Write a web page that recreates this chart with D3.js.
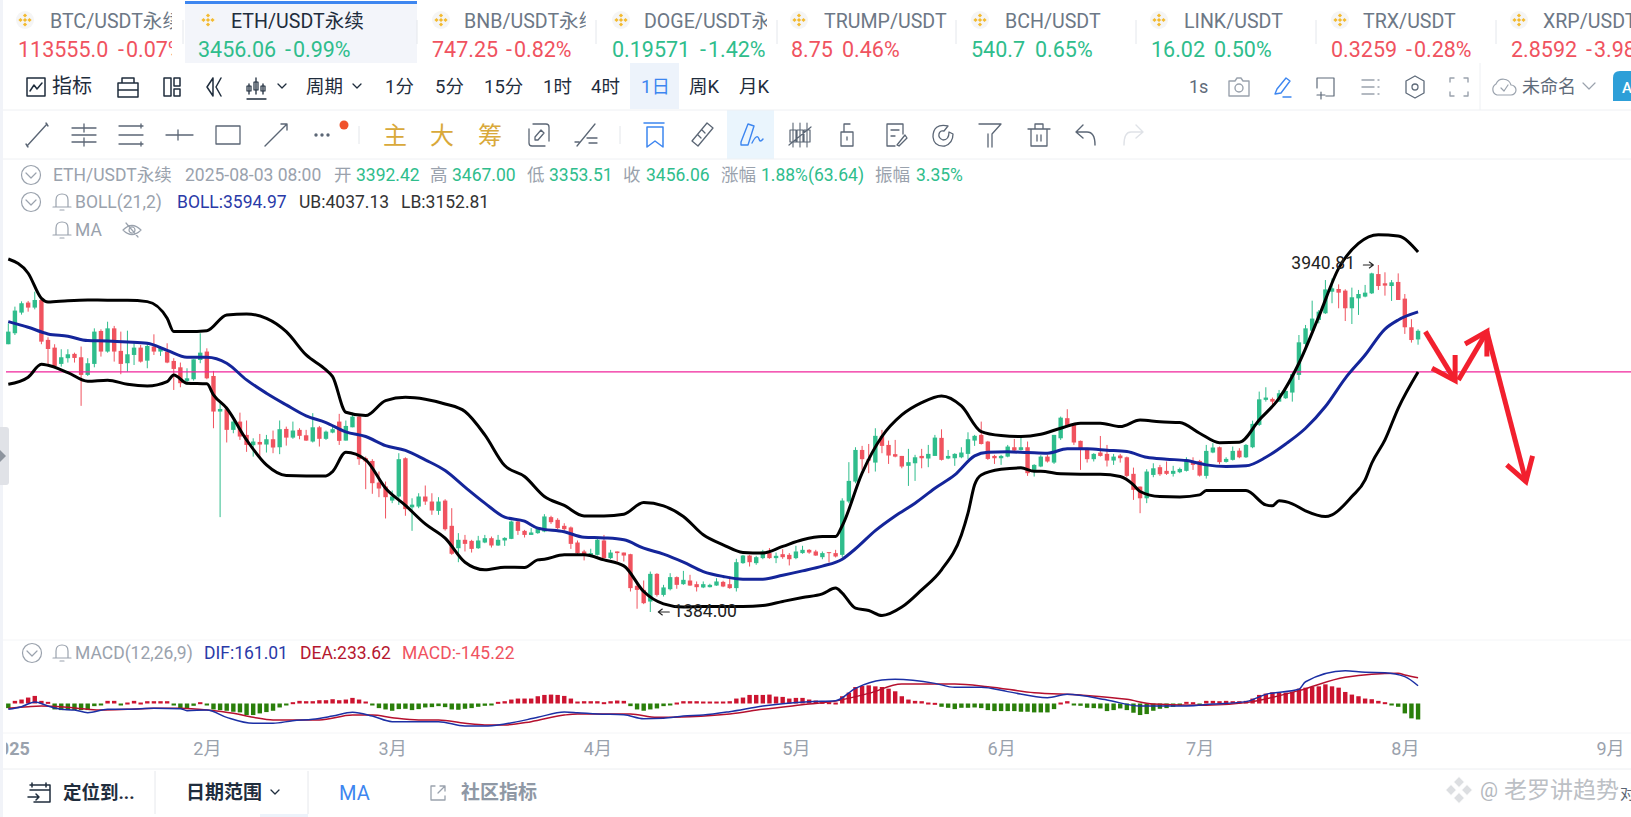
<!DOCTYPE html>
<html>

<head>
    <meta charset="utf-8">
    <style>
        body {
            margin: 0;
            background: #fff;
            overflow: hidden;
        }

        svg text {
            font-family: Roboto, "Noto Sans CJK SC", sans-serif;
        }
    </style>
</head>

<body>
    <svg id="chart" width="1631" height="817"></svg>
    <script src="https://cdnjs.cloudflare.com/ajax/libs/d3/7.8.5/d3.min.js"></script>
    <script>
        // daily candles, first one is 2025-01-02, one value per day
        const opens = [
            3357, 3438, 3590, 3664, 3627, 3683, 3389, 3332, 3212, 3254,
            3286, 3261, 3131, 3212, 3455, 3303, 3474, 3308, 3217, 3278,
            3332, 3236, 3340, 3303, 3303, 3234, 3187, 3087, 3099, 3241,
            3303, 3123, 2861, 2878, 2726, 2787, 2689, 2613, 2637, 2618,
            2657, 2598, 2733, 2669, 2726, 2686, 2640, 2745, 2660, 2706,
            2787, 2647, 2745, 2824, 2517, 2497, 2338, 2309, 2205, 2235,
            2517, 2155, 2161, 2235, 2198, 2129, 2205, 2019, 1854, 1916,
            1908, 1854, 1896, 1928, 1874, 1911, 1923, 2051, 1982, 1952,
            1965, 1977, 2083, 2063, 2019, 2007, 1896, 1830, 1793, 1805,
            1911, 1781, 1830, 1822, 1810, 1577, 1547, 1461, 1665, 1510,
            1552, 1641, 1589, 1616, 1589, 1565, 1567, 1579, 1606, 1589,
            1560, 1744, 1800, 1744, 1781, 1818, 1781, 1810, 1805, 1781,
            1818, 1842, 1830, 1788, 1825, 1818, 1805, 2198, 2345, 2578,
            2510, 2485, 2682, 2615, 2547, 2534, 2461, 2480, 2534, 2515,
            2534, 2667, 2515, 2517, 2524, 2549, 2647, 2689, 2640, 2534,
            2517, 2529, 2598, 2578, 2598, 2431, 2456, 2529, 2485, 2664,
            2812, 2762, 2645, 2583, 2510, 2559, 2549, 2500, 2537, 2524,
            2402, 2308, 2222, 2394, 2451, 2424, 2402, 2414, 2424, 2493,
            2497, 2387, 2559, 2598, 2490, 2505, 2573, 2524, 2598, 2763,
            2947, 2954, 2934, 2959, 3001, 3131, 3359, 3457, 3536, 3585,
            3744, 3764, 3752, 3622, 3695, 3708, 3732, 3874, 3806, 3786,
            3816, 3693, 3482, 3392.42
        ];
        const highs = [
            3511, 3634, 3673, 3676, 3744, 3688, 3408, 3357, 3320, 3320,
            3295, 3340, 3254, 3474, 3467, 3523, 3492, 3450, 3457, 3364,
            3352, 3369, 3430, 3344, 3364, 3254, 3222, 3180, 3246, 3438,
            3327, 3160, 2922, 2898, 2829, 2853, 2795, 2664, 2696, 2689,
            2721, 2795, 2750, 2787, 2738, 2726, 2849, 2755, 2721, 2750,
            2844, 2795, 2853, 2836, 2529, 2510, 2419, 2345, 2279, 2554,
            2524, 2222, 2259, 2316, 2259, 2230, 2215, 2149, 1965, 1952,
            1916, 1945, 1952, 1940, 1952, 1935, 2058, 2058, 1989, 2002,
            2009, 2105, 2093, 2075, 2038, 2014, 1911, 1842, 1850, 1928,
            1952, 1842, 1830, 1822, 1813, 1597, 1616, 1682, 1670, 1584,
            1670, 1646, 1687, 1658, 1609, 1609, 1592, 1633, 1614, 1646,
            1776, 1805, 1805, 1798, 1842, 1855, 1822, 1847, 1818, 1872,
            1872, 1847, 1842, 1830, 1825, 1842, 2222, 2488, 2598, 2608,
            2622, 2738, 2726, 2647, 2652, 2534, 2586, 2542, 2586, 2615,
            2689, 2730, 2578, 2554, 2598, 2708, 2689, 2787, 2645, 2542,
            2542, 2615, 2659, 2669, 2640, 2473, 2539, 2542, 2689, 2824,
            2878, 2775, 2647, 2591, 2554, 2681, 2615, 2549, 2549, 2529,
            2448, 2308, 2436, 2480, 2468, 2493, 2461, 2448, 2524, 2524,
            2505, 2615, 2628, 2603, 2524, 2603, 2591, 2622, 2794, 3008,
            3040, 2964, 3020, 3032, 3155, 3425, 3499, 3678, 3609, 3830,
            3842, 3798, 3762, 3774, 3757, 3794, 3884, 3940.81, 3887, 3830,
            3879, 3727, 3541, 3467
        ];
        const lows = [
            3357, 3425, 3575, 3597, 3614, 3357, 3212, 3180, 3192, 3222,
            3222, 2903, 3123, 3187, 3266, 3295, 3229, 3136, 3155, 3204,
            3222, 3180, 3278, 3271, 3217, 3020, 3040, 3057, 3089, 3217,
            3099, 2738, 2083, 2633, 2701, 2652, 2564, 2529, 2517, 2559,
            2554, 2547, 2610, 2660, 2657, 2645, 2633, 2603, 2652, 2701,
            2615, 2647, 2745, 2468, 2289, 2255, 2230, 2073, 2186, 2173,
            2093, 1982, 2149, 2173, 2100, 2100, 1984, 1805, 1751, 1830,
            1822, 1849, 1891, 1859, 1871, 1871, 1921, 1952, 1933, 1952,
            1960, 1972, 2033, 1994, 1984, 1849, 1805, 1764, 1788, 1800,
            1776, 1773, 1756, 1756, 1535, 1408, 1442, 1384, 1498, 1498,
            1543, 1555, 1584, 1577, 1535, 1560, 1565, 1577, 1567, 1555,
            1535, 1739, 1719, 1732, 1773, 1776, 1744, 1776, 1727, 1773,
            1813, 1813, 1798, 1773, 1749, 1786, 1788, 2186, 2333, 2431,
            2407, 2419, 2554, 2475, 2524, 2443, 2313, 2350, 2443, 2451,
            2534, 2500, 2510, 2461, 2517, 2510, 2608, 2618, 2505, 2475,
            2468, 2524, 2566, 2573, 2387, 2382, 2451, 2485, 2475, 2652,
            2745, 2615, 2431, 2485, 2493, 2529, 2456, 2468, 2485, 2377,
            2210, 2112, 2186, 2377, 2387, 2394, 2382, 2407, 2419, 2431,
            2382, 2367, 2554, 2473, 2485, 2500, 2517, 2519, 2591, 2755,
            2934, 2885, 2934, 2954, 2934, 3094, 3303, 3450, 3511, 3580,
            3659, 3622, 3528, 3506, 3573, 3703, 3727, 3757, 3715, 3676,
            3683, 3433, 3369, 3353.51
        ];
        const closes = [
            3450, 3605, 3659, 3627, 3683, 3376, 3322, 3197, 3261, 3283,
            3256, 3131, 3217, 3450, 3303, 3474, 3303, 3212, 3283, 3332,
            3229, 3344, 3303, 3335, 3222, 3175, 3070, 3106, 3246, 3295,
            3106, 2861, 2880, 2726, 2787, 2677, 2615, 2640, 2618, 2657,
            2596, 2731, 2669, 2721, 2682, 2647, 2745, 2660, 2713, 2731,
            2645, 2755, 2824, 2510, 2493, 2333, 2294, 2230, 2235, 2510,
            2142, 2175, 2235, 2198, 2132, 2198, 1994, 1813, 1916, 1886,
            1849, 1911, 1928, 1874, 1916, 1930, 2051, 1982, 1952, 1970,
            2002, 2088, 2046, 2002, 1994, 1886, 1818, 1805, 1818, 1916,
            1781, 1822, 1818, 1800, 1560, 1547, 1449, 1665, 1510, 1565,
            1641, 1584, 1621, 1579, 1567, 1589, 1584, 1609, 1572, 1560,
            1751, 1800, 1751, 1788, 1830, 1781, 1798, 1788, 1773, 1830,
            1842, 1822, 1800, 1818, 1818, 1793, 2205, 2350, 2578, 2510,
            2500, 2682, 2608, 2537, 2529, 2456, 2488, 2524, 2517, 2549,
            2669, 2505, 2534, 2549, 2559, 2657, 2682, 2622, 2512, 2517,
            2534, 2603, 2573, 2598, 2407, 2468, 2529, 2493, 2689, 2816,
            2755, 2633, 2583, 2510, 2549, 2534, 2500, 2529, 2517, 2387,
            2284, 2222, 2419, 2443, 2399, 2402, 2424, 2438, 2500, 2468,
            2389, 2571, 2596, 2488, 2512, 2571, 2524, 2615, 2770, 2951,
            2964, 2934, 2996, 3013, 3136, 3371, 3474, 3546, 3597, 3761,
            3769, 3737, 3622, 3703, 3727, 3737, 3879, 3786, 3789, 3813,
            3683, 3482, 3388, 3456.06
        ];

        // bollinger lines, read at the day numbers in the *Days arrays
        const upperDays = [0, 3, 5, 6, 9, 12, 15, 18, 21, 24, 25, 27, 30, 33, 36, 39, 42, 45, 48, 49, 51, 54, 57, 60, 63, 66, 69, 72, 75, 78, 81, 84, 87, 90, 93, 96, 99, 102, 105, 108, 111, 114, 117, 120, 123, 125, 126, 129, 132, 135, 138, 141, 144, 147, 150, 153, 156, 159, 162, 165, 168, 171, 174, 177, 180, 183, 186, 189, 192, 195, 198, 201, 204, 207, 210, 213];
        const upperVals = [3985, 3880, 3695, 3668, 3678, 3683, 3681, 3681, 3671, 3548, 3450, 3450, 3457, 3573, 3580, 3548, 3450, 3278, 3168, 3118, 2856, 2831, 2942, 2966, 2952, 2917, 2861, 2689, 2463, 2382, 2235, 2169, 2092, 2092, 2105, 2191, 2166, 2088, 1953, 1879, 1823, 1818, 1867, 1916, 1940, 1940, 2020, 2407, 2677, 2836, 2927, 2976, 2902, 2713, 2684, 2677, 2694, 2738, 2775, 2775, 2750, 2799, 2785, 2780, 2701, 2632, 2635, 2799, 2959, 3217, 3560, 3916, 4100, 4164, 4154, 4037.13];
        const midDays = [0, 3, 6, 9, 12, 15, 18, 21, 24, 27, 30, 33, 36, 39, 42, 45, 48, 51, 54, 57, 60, 63, 66, 69, 72, 75, 78, 80, 84, 87, 90, 93, 96, 99, 102, 105, 108, 111, 114, 117, 120, 123, 126, 128, 131, 134, 137, 140, 143, 146, 148, 151, 154, 157, 160, 163, 166, 169, 172, 175, 178, 181, 184, 187, 190, 193, 196, 199, 202, 205, 208, 210, 213];
        const midVals = [3524, 3482, 3433, 3416, 3384, 3381, 3374, 3364, 3312, 3261, 3261, 3217, 3094, 2996, 2910, 2829, 2780, 2711, 2677, 2610, 2575, 2505, 2426, 2304, 2186, 2083, 2053, 2002, 1975, 1935, 1930, 1916, 1854, 1810, 1751, 1682, 1646, 1626, 1626, 1655, 1687, 1722, 1773, 1850, 1984, 2092, 2186, 2296, 2394, 2534, 2561, 2564, 2559, 2554, 2586, 2586, 2576, 2566, 2524, 2510, 2500, 2468, 2456, 2461, 2524, 2622, 2738, 2898, 3106, 3278, 3469, 3536, 3594.97];
        const lowerDays = [0, 3, 5, 6, 9, 12, 15, 18, 21, 24, 25, 27, 30, 31, 33, 36, 39, 42, 45, 48, 49, 51, 54, 57, 60, 63, 66, 69, 72, 75, 78, 80, 81, 84, 87, 90, 93, 96, 99, 102, 105, 108, 111, 114, 117, 120, 123, 125, 126, 128, 130, 132, 135, 138, 141, 144, 145, 146, 147, 150, 153, 155, 156, 159, 162, 165, 168, 170, 171, 174, 177, 180, 181, 183, 187, 190, 191, 192, 194, 196, 199, 200, 203, 205, 206, 208, 210, 213];
        const lowerVals = [3062, 3114, 3209, 3202, 3148, 3084, 3092, 3062, 3050, 3082, 3131, 3070, 3065, 2984, 2885, 2652, 2468, 2390, 2387, 2387, 2419, 2561, 2505, 2296, 2170, 2033, 1928, 1751, 1695, 1714, 1712, 1768, 1773, 1805, 1805, 1768, 1724, 1535, 1444, 1420, 1425, 1425, 1425, 1432, 1462, 1491, 1518, 1560, 1523, 1412, 1395, 1358, 1420, 1547, 1695, 1952, 2112, 2321, 2394, 2436, 2446, 2421, 2421, 2402, 2399, 2399, 2382, 2321, 2272, 2235, 2232, 2247, 2279, 2279, 2279, 2173, 2166, 2203, 2181, 2129, 2087, 2100, 2235, 2357, 2480, 2652, 2885, 3152.81];

        // macd panel
        const macdHist = [
            -42, 24, 36, 54, 69, 24, 15, -54, -60, -60,
            -60, -60, -60, -24, -18, 24, 24, -12, 9, 24,
            9, 21, 21, 21, 21, -12, -42, -42, -21, 12,
            -12, -54, -60, -66, -75, -81, -105, -105, -90, -78,
            -66, -36, -15, 12, 24, 21, 21, 30, 30, 39,
            30, 36, 51, 36, 18, -15, -42, -54, -66, -51,
            -48, -60, -51, -36, -33, -24, -33, -54, -57, -48,
            -42, -30, -21, -6, 15, 21, 36, 45, 45, 45,
            66, 78, 81, 78, 69, 45, 18, 21, 21, 21,
            12, 21, 27, 24, -24, -54, -66, -54, -45, -24,
            -15, 9, 21, 21, 21, 18, 18, 18, 18, 21,
            45, 54, 78, 78, 78, 81, 63, 60, 45, 51,
            51, 36, 27, 15, 12, 9, 66, 99, 150, 159,
            165, 156, 150, 135, 111, 66, 36, 24, 21, 9,
            6, -30, -39, -51, -39, -39, -36, -42, -60, -69,
            -69, -69, -69, -75, -75, -81, -81, -81, -51, 9,
            21, -9, -21, -39, -42, -45, -69, -60, -45, -60,
            -84, -105, -96, -66, -48, -42, -30, -12, 15, 12,
            -18, 24, 24, 21, 24, 21, 21, 24, 45, 78,
            90, 102, 99, 99, 108, 135, 144, 150, 156, 174,
            156, 144, 105, 81, 66, 45, 39, 24, 12, -9,
            -30, -90, -135, -145.22
        ];
        const difDays = [0, 2, 4, 6, 8, 10, 12, 15, 18, 22, 26, 27, 30, 33, 37, 40, 43, 46, 49, 52, 55, 58, 60, 65, 69, 72, 75, 80, 84, 86, 89, 93, 96, 99, 102, 105, 109, 114, 121, 125, 128, 132, 134, 140, 143, 147, 151, 157, 160, 166, 171, 178, 182, 187, 190, 195, 196, 202, 205, 208, 211, 213];
        const difVals = [-53, -29, 14, -23, -53, -59, -83, -53, -53, -44, -47, -65, -59, -126, -180, -180, -156, -144, -114, -80, -114, -165, -165, -165, -205, -205, -186, -126, -77, -83, -95, -102, -138, -135, -114, -105, -74, -23, 17, 26, 138, 214, 220, 183, 147, 147, 108, 53, 83, 32, -23, -23, -5, 17, 83, 129, 198, 298, 283, 280, 244, 161.01];
        const deaDays = [0, 3, 5, 8, 12, 14, 18, 22, 26, 30, 34, 37, 40, 45, 47, 52, 55, 58, 62, 65, 69, 72, 75, 79, 84, 86, 94, 98, 103, 109, 114, 121, 125, 130, 135, 143, 148, 155, 162, 169, 173, 181, 187, 195, 202, 210, 211, 213];
        const deaVals = [-44, -29, -23, -29, -53, -59, -53, -44, -44, -59, -89, -126, -150, -150, -150, -105, -105, -129, -150, -150, -180, -195, -195, -165, -105, -95, -95, -126, -120, -95, -53, -5, 23, 92, 177, 177, 153, 98, 77, 38, -5, -17, 8, 117, 238, 274, 259, 233.62];

        // price line and the two hand drawn marks
        const priceLine = 3152.81;
        const maxMark = 3940.81;
        const minMark = 1384.00;
        const arrowDays = [[214.1, 218.6], [215.1, 218.6, 218.6], [219.1, 223.4], [220.1, 223.4, 223.4], [223.4, 229.3], [226.4, 229.3, 230.3]];
        const arrowVals = [[3450, 3089], [3180, 3089, 3278], [3094, 3450], [3359, 3450, 3266], [3450, 2345], [2468, 2345, 2534]];

        const monthTicks = ["2025-01-01", "2025-02-01", "2025-03-01", "2025-04-01", "2025-05-01", "2025-06-01", "2025-07-01", "2025-08-01", "2025-09-01"];
        const monthLabels = ["2025", "2月", "3月", "4月", "5月", "6月", "7月", "8月", "9月"];

        const tabNames = ["BTC/USDT永续", "ETH/USDT永续", "BNB/USDT永续", "DOGE/USDT永续", "TRUMP/USDT", "BCH/USDT", "LINK/USDT", "TRX/USDT", "XRP/USDT"];
        const tabPrices = ["113555.0", "3456.06", "747.25", "0.19571", "8.75", "540.7", "16.02", "0.3259", "2.8592"];
        const tabChanges = ["-0.07%", "-0.99%", "-0.82%", "-1.42%", "0.46%", "0.65%", "0.50%", "-0.28%", "-3.98%"];
        const tabColors = ["r", "g", "r", "g", "r", "g", "g", "r", "r"];
        // layout of the tab strip
        const tabIconX = [25, 208, 441, 621, 799, 980, 1159, 1340, 1519];
        const tabNameX = [50, 231, 464, 644, 824, 1005, 1184, 1363, 1543];
        const tabPriceX = [18, 198, 432, 612, 791, 971, 1151, 1331, 1511];
        const tabChangeX = [118, 285, 506, 700, 842, 1035, 1214, 1406, 1586];
        const tabClipX = [172, 417, 586, 767, 956, 1136, 1316, 1496, 1631];
        const tabSepX = [183, 417, 596, 777, 956, 1136, 1316, 1496];

        const RED = "#f0535f", GREEN = "#2fbd8c", GREY = "#9aa2ad", DARK = "#1f2d3d", BLUE = "#3d86f0", ICON = "#5f6b7a";

        const svg = d3.select("#chart");
        const defs = svg.append("defs");

        const start = Date.UTC(2025, 0, 2);
        const dayDate = i => new Date(start + i * 864e5);

        const x = d3.scaleUtc().domain([dayDate(0), dayDate(242)]).range([8.3, 1610]);
        const xi = i => x(dayDate(i));
        const y = d3.scaleLinear().domain([minMark, maxMark]).range([612, 265]);
        const yMacd = d3.scaleLinear().domain([0, 100]).range([703.5, 692.5]);

        function label(parent, tx, ty, str, size, fill, weight) {
            return parent.append("text").attr("x", tx).attr("y", ty).text(str)
                .attr("font-size", size).attr("fill", fill).attr("font-weight", weight || 400);
        }

        function line(parent, d, color, w, extra) {
            return parent.append("path").attr("d", d).attr("fill", extra || "none").attr("stroke", color)
                .attr("stroke-width", w).attr("stroke-linecap", "round").attr("stroke-linejoin", "round");
        }

        function at(px, py) {
            return svg.append("g").attr("transform", `translate(${px},${py})`);
        }

        // page frame
        svg.append("rect").attr("width", 1631).attr("height", 817).attr("fill", "#fff");
        svg.append("rect").attr("width", 3).attr("height", 817).attr("fill", "#f1f3f8");

        // ---- tab strip
        svg.append("rect").attr("x", 185).attr("y", 1).attr("width", 232).attr("height", 62).attr("fill", "#f3f5fa");
        svg.append("rect").attr("x", 185).attr("y", 1).attr("width", 232).attr("height", 3).attr("fill", BLUE);
        tabSepX.forEach(sx => svg.append("line").attr("x1", sx).attr("x2", sx).attr("y1", 20).attr("y2", 44).attr("stroke", "#e4e7ec"));

        tabNames.forEach((name, i) => {
            const g = svg.append("g").attr("clip-path", `url(#tabclip${i})`);
            defs.append("clipPath").attr("id", "tabclip" + i).append("rect")
                .attr("x", 0).attr("y", 0).attr("width", tabClipX[i]).attr("height", 63);
            const c = at(tabIconX[i], 20);
            c.append("circle").attr("r", 9).attr("fill", "#f5f5f5");
            [[0, -4.5], [-4.5, 0], [4.5, 0], [0, 4.5], [0, 0]].forEach(p => {
                c.append("rect").attr("x", p[0] - 1.5).attr("y", p[1] - 1.5).attr("width", 3).attr("height", 3)
                    .attr("fill", "#f3ba2f").attr("transform", `rotate(45 ${p[0]} ${p[1]})`);
            });
            label(g, tabNameX[i], 28, name, 19.6, i === 1 ? DARK : "#6d7886");
            const col = tabColors[i] === "r" ? RED : GREEN;
            label(g, tabPriceX[i], 57, tabPrices[i], 21.5, col);
            // the minus sign sits a bit wider in the original
            const ch = tabChanges[i];
            if (ch[0] === "-") {
                const t = label(g, tabChangeX[i], 57, "-", 21.5, col);
                t.append("tspan").attr("dx", 2).text(ch.slice(1));
            } else {
                label(g, tabChangeX[i], 57, ch, 21.5, col);
            }
        });

        // ---- toolbars
        svg.append("rect").attr("x", 630).attr("y", 63).attr("width", 49).attr("height", 46).attr("fill", "#edf3fb");
        svg.append("rect").attr("x", 727).attr("y", 110).attr("width", 47).attr("height", 49).attr("fill", "#eaf5fd");
        [110, 159].forEach(ly => svg.append("line").attr("x1", 3).attr("x2", 1631).attr("y1", ly).attr("y2", ly).attr("stroke", "#eef0f3"));

        const periodText = ["指标", "周期", "1分", "5分", "15分", "1时", "4时", "1日", "周K", "月K"];
        const periodX = [52, 306, 385, 435, 484, 543, 591, 641, 689, 739];
        periodText.forEach((t, i) => label(svg, periodX[i], 93, t, i === 0 ? 20 : 18.5, t === "1日" ? BLUE : DARK));

        line(at(36, 87), "M-9,-9H9V9H-9Z", DARK, 1.5);
        line(at(36, 87), "M-6,4L-2,-2L1,2L6,-4", DARK, 1.5);
        line(at(128, 87), "M-10,-4H10V10H-10ZM-6,-4V-9H6V-4M-10,3H10", DARK, 1.5);
        line(at(172, 87), "M-8,-9H-1V9H-8ZM2,-9H8V-1H2ZM2,2H8V9H2Z", DARK, 1.5);
        line(at(214, 87), "M-1,-9L-7,0L-1,9M7,-9L2,0L7,9M-1,-9L-1,9", DARK, 1.5);
        line(at(256, 87), "M-9,12H10M-7,-3V7M0,-9V7M7,-3V7", DARK, 1.3);
        line(at(256, 87), "M-9,-1H-5V4H-9ZM-2,-5H2V3H-2ZM5,-1H9V4H5Z", DARK, 1.2);
        line(at(282, 86), "M-4,-2L0,2L4,-2", DARK, 1.3);
        line(at(357, 86), "M-4,-2L0,2L4,-2", DARK, 1.3);

        label(svg, 1189, 93, "1s", 18, ICON);
        line(at(1239, 87), "M-10,-6H-4L-2,-9H2L4,-6H10V9H-10Z", "#9aa2ad", 1.4);
        line(at(1239, 88), "M-4,0a4,4 0 1,0 8,0a4,4 0 1,0 -8,0", "#9aa2ad", 1.4);
        line(at(1283, 87), "M-8,7L-6,2L3,-9L7,-6L-2,6ZM0,10H8", BLUE, 1.4);
        line(at(1325, 87), "M-8,-9H9V9H1M-8,-9V1M-4,5V12M-8,8H0", ICON, 1.2);
        line(at(1370, 87), "M-8,-7H4M-8,0H4M-8,7H4M8,-7H9M8,0H9M8,7H9", "#9aa2ad", 1.4);
        line(at(1415, 87), "M0,-11L9,-6V6L0,11L-9,6V-6Z", ICON, 1.3);
        line(at(1415, 87), "M-3,0a3,3 0 1,0 6,0a3,3 0 1,0 -6,0", ICON, 1.3);
        line(at(1459, 87), "M-9,-5V-9H-5M5,-9H9V-5M9,5V9H5M-5,9H-9V5", "#9aa2ad", 1.4);
        svg.append("line").attr("x1", 1480).attr("x2", 1480).attr("y1", 63).attr("y2", 110).attr("stroke", "#eef0f3");
        line(at(1504, 87), "M-7,8a6,6 0 0,1 -1,-11a8,8 0 0,1 15,1a5,5 0 0,1 0,10Z", "#9aa2ad", 1.2);
        line(at(1504, 88), "M-3,0L0,3L4,-3", "#9aa2ad", 1.2);
        label(svg, 1522, 93, "未命名", 18, "#5f6b7a");
        line(at(1589, 86), "M-6,-3L0,3L6,-3", "#9aa2ad", 1.2);
        svg.append("path").attr("d", "M1631,71H1620Q1613,71 1613,78V101H1631Z").attr("fill", "#2d9fd8");
        label(svg, 1622, 93, "A", 15, "#fff", 500);

        const TOOL = "#5b6675";
        line(at(37, 135), "M-10,11L10,-11M-11,9L-9,12M9,-12L11,-9", TOOL, 1.4);
        line(at(84, 135), "M-12,-7H12M-12,0H12M-12,7H12M0,-11V-3M0,3V11", TOOL, 1.3);
        line(at(131, 135), "M-12,-9H12M-12,0H12M-12,9H12M10,-11V-7M10,7V11", TOOL, 1.3);
        line(at(180, 135), "M-14,0H13M-2,-5V5", TOOL, 1.3);
        line(at(228, 135), "M-12,-9H12V9H-12Z", TOOL, 1.3);
        line(at(276, 135), "M-11,11L11,-11M5,-11H11V-5", TOOL, 1.4);
        [-8, -2, 4].forEach(dx => at(324 + dx, 135).append("circle").attr("r", 1.7).attr("fill", TOOL));
        svg.append("circle").attr("cx", 344).attr("cy", 125).attr("r", 4.5).attr("fill", "#f0532d");
        svg.append("line").attr("x1", 359).attr("x2", 359).attr("y1", 126).attr("y2", 144).attr("stroke", "#e3e6ea");
        label(svg, 383, 144, "主", 24, "#d9a93a");
        label(svg, 430, 144, "大", 24, "#d9a93a");
        label(svg, 478, 144, "筹", 24, "#d9a93a");
        line(at(539, 135), "M-10,-6V8Q-10,11 -7,11H6M10,6V-8Q10,-11 7,-11H-6M-4,2L2,-5L5,-2L-1,5H-4Z", TOOL, 1.3);
        line(at(587, 135), "M-10,11L8,-11M-12,7L-8,7M0,3H10M2,8H10", TOOL, 1.3);
        svg.append("line").attr("x1", 620).attr("x2", 620).attr("y1", 126).attr("y2", 144).attr("stroke", "#e3e6ea");
        line(at(654, 135), "M-10,-12H10M-7,-8H9V12L1,6L-7,12Z", BLUE, 1.5);
        line(at(702, 135), "M-10,6L5,-12L11,-7L-4,11ZM-4,0L-1,3M0,-5L3,-2", TOOL, 1.3);
        line(at(751, 135), "M-10,7L-3,-11L3,-9L-3,10H-10ZM1,8Q6,-2 8,4Q9,8 12,4", BLUE, 1.4);
        line(at(800, 135), "M-7,-12V12M7,-12V12M0,-12V12", TOOL, 1.1);
        line(at(800, 135), "M-10,-5H-4V7H-10ZM-3,-5H3V7H-3ZM4,-5H10V7H4ZM-11,10L11,-8", TOOL, 1.2);
        line(at(847, 135), "M-6,-3H6V11H-6ZM-3,-3V-11H3M0,2V5", TOOL, 1.3);
        line(at(895, 135), "M-8,-11H8V-1M-8,-11V11H0M-4,-5H4M-4,1H0M2,10L10,0L12,3L4,11Z", TOOL, 1.3);
        line(at(943, 135), "M5,-9Q-10,-12 -10,2Q-9,12 2,11Q10,8 10,-1L6,-3Q6,5 0,5Q-5,3 -4,-1Q-3,-5 1,-4Z", TOOL, 1.3);
        line(at(990, 135), "M-11,-11H11L2,-1V12M-2,12V-1Z", TOOL, 1.3);
        line(at(1039, 135), "M-11,-6H11M-8,-6V11H8V-6M-4,-6V-11H4V-6M-2,0V6M2,0V6", TOOL, 1.3);
        line(at(1085, 135), "M-9,-3L-2,-10M-9,-3L-2,3M-9,-3H2Q10,-3 10,10", TOOL, 1.4);
        line(at(1133, 135), "M10,-3L3,-10M10,-3L3,3M10,-3H-2Q-9,-3 -9,10", "#dfe2e7", 1.4);

        // ---- legend rows
        function chevronCircle(px, py) {
            at(px, py).append("circle").attr("r", 9.5).attr("fill", "none").attr("stroke", "#9aa2ad").attr("stroke-width", 1.2);
            line(at(px, py), "M-5,-2L0,3L5,-2", "#9aa2ad", 1.2);
        }
        function bell(px, py) {
            line(at(px, py), "M-6,5V-2Q-6,-8 0,-8Q6,-8 6,-2V5M-9,5H9M-2,8H2", "#9aa2ad", 1.2);
        }

        chevronCircle(31, 175);
        chevronCircle(31, 202);
        bell(62, 202);
        bell(62, 230);
        const infoLabels = ["ETH/USDT永续", "2025-08-03 08:00", "开", "高", "低", "收", "涨幅", "振幅"];
        const infoLabelX = [53, 185, 334, 430, 527, 623, 721, 875];
        const infoValues = ["3392.42", "3467.00", "3353.51", "3456.06", "1.88%(63.64)", "3.35%"];
        const infoValueX = [356, 452, 549, 646, 761, 916];
        infoLabels.forEach((t, i) => label(svg, infoLabelX[i], 181, t, 17.5, GREY));
        infoValues.forEach((t, i) => label(svg, infoValueX[i], 181, t, 17.5, GREEN));
        label(svg, 75, 208, "BOLL(21,2)", 17.5, GREY);
        label(svg, 177, 208, "BOLL:3594.97", 17.5, "#2a3aa8");
        label(svg, 299, 208, "UB:4037.13", 17.5, "#333");
        label(svg, 401, 208, "LB:3152.81", 17.5, "#333");
        label(svg, 75, 236, "MA", 17.5, GREY);
        line(at(132, 230), "M-9,0Q0,-9 9,0Q0,9 -9,0ZM-6,-7L6,7M-3,0a3,3 0 1,0 6,0a3,3 0 1,0 -6,0", "#9aa2ad", 1.2);

        chevronCircle(32, 653);
        bell(62, 653);
        label(svg, 75, 659, "MACD(12,26,9)", 17.5, GREY);
        label(svg, 204, 659, "DIF:161.01", 17.5, "#2a3aa8");
        label(svg, 300, 659, "DEA:233.62", 17.5, "#b5172f");
        label(svg, 402, 659, "MACD:-145.22", 17.5, RED);

        // ---- left handle
        svg.append("path").attr("d", "M0,427H6Q9,427 9,430V482Q9,485 6,485H0Z").attr("fill", "#e0e2e7");
        svg.append("path").attr("d", "M0,450L6,456L0,462Z").attr("fill", "#8d949e");

        // ---- candles
        const candles = d3.range(opens.length).map(i => ({ i, o: opens[i], h: highs[i], l: lows[i], c: closes[i] }));
        const cg = svg.append("g");
        const cGroup = cg.selectAll("g").data(candles).enter().append("g")
            .attr("fill", d => d.c >= d.o ? GREEN : RED).attr("stroke", d => d.c >= d.o ? GREEN : RED);
        cGroup.append("line").attr("x1", d => xi(d.i)).attr("x2", d => xi(d.i))
            .attr("y1", d => y(d.h)).attr("y2", d => y(d.l)).attr("stroke-width", 1);
        cGroup.append("rect").attr("stroke", "none").attr("x", d => xi(d.i) - 2.2).attr("width", 4.4)
            .attr("y", d => y(Math.max(d.o, d.c)))
            .attr("height", d => Math.max(1, Math.abs(y(d.o) - y(d.c))));

        // price line
        svg.append("line").attr("x1", 6).attr("x2", 1631).attr("y1", y(priceLine)).attr("y2", y(priceLine))
            .attr("stroke", "#f0249b").attr("stroke-width", 1.2);

        // ---- bollinger
        const priceLineGen = d3.line().x(d => xi(d[0])).y(d => y(d[1])).curve(d3.curveMonotoneX);
        const zipLine = (days, vals) => days.map((d, i) => [d, vals[i]]);
        svg.append("path").attr("d", priceLineGen(zipLine(upperDays, upperVals))).attr("fill", "none").attr("stroke", "#000").attr("stroke-width", 3);
        svg.append("path").attr("d", priceLineGen(zipLine(lowerDays, lowerVals))).attr("fill", "none").attr("stroke", "#000").attr("stroke-width", 3);
        svg.append("path").attr("d", priceLineGen(zipLine(midDays, midVals))).attr("fill", "none").attr("stroke", "#14259a").attr("stroke-width", 3);

        // high / low marks
        label(svg, xi(207) - 87, y(maxMark) + 4, "3940.81", 17.5, "#222");
        line(svg, `M${xi(207) - 15},${y(maxMark)}H${xi(207) - 5}M${xi(207) - 9},${y(maxMark) - 3}L${xi(207) - 5},${y(maxMark)}L${xi(207) - 9},${y(maxMark) + 3}`, "#222", 1.1);
        label(svg, xi(97) + 23, y(minMark) + 5, "1384.00", 17.5, "#222");
        line(svg, `M${xi(97) + 8},${y(minMark)}H${xi(97) + 19}M${xi(97) + 12},${y(minMark) - 3}L${xi(97) + 8},${y(minMark)}L${xi(97) + 12},${y(minMark) + 3}`, "#222", 1.1);

        // hand drawn arrows
        arrowDays.forEach((days, k) => {
            const pts = days.map((d, i) => [xi(d), y(arrowVals[k][i])]);
            svg.append("path").attr("d", d3.line()(pts)).attr("fill", "none")
                .attr("stroke", "#f2202e").attr("stroke-width", 5).attr("stroke-linecap", "butt").attr("stroke-linejoin", "miter");
        });

        // ---- macd
        [640, 733].forEach(ly => svg.append("line").attr("x1", 3).attr("x2", 1631).attr("y1", ly).attr("y2", ly).attr("stroke", "#f4f5f7"));
        svg.selectAll("rect.hist").data(macdHist).enter().append("rect").attr("class", "hist")
            .attr("x", (d, i) => xi(i) - 2.2).attr("width", 4.4)
            .attr("y", d => yMacd(Math.max(0, d)))
            .attr("height", d => Math.max(2, Math.abs(yMacd(d) - yMacd(0))))
            .attr("fill", d => d >= 0 ? "#cc1430" : "#2a7f0a");
        const macdLineGen = d3.line().x(d => xi(d[0])).y(d => yMacd(d[1])).curve(d3.curveMonotoneX);
        svg.append("path").attr("d", macdLineGen(zipLine(deaDays, deaVals))).attr("fill", "none").attr("stroke", "#b5102e").attr("stroke-width", 1.5);
        svg.append("path").attr("d", macdLineGen(zipLine(difDays, difVals))).attr("fill", "none").attr("stroke", "#1c30a5").attr("stroke-width", 1.5);

        // ---- time axis
        defs.append("clipPath").attr("id", "axisclip").append("rect").attr("x", 6).attr("y", 730).attr("width", 1625).attr("height", 40);
        const axis = d3.axisBottom(x)
            .tickValues(monthTicks.map(d => new Date(d + "T00:00:00Z")))
            .tickFormat((d, i) => monthLabels[i]).tickSize(0).tickPadding(0);
        const axisG = svg.append("g").attr("clip-path", "url(#axisclip)").append("g").attr("transform", "translate(0,737)").call(axis);
        axisG.select(".domain").remove();
        axisG.selectAll("text").attr("font-size", 18).attr("fill", GREY).attr("dy", "1em")
            .attr("font-family", 'Roboto, "Noto Sans CJK SC", sans-serif')
            .attr("dx", (d, i) => i === 0 ? 7 : 0).attr("font-weight", (d, i) => i === 0 ? 700 : 400);

        // ---- bottom bar
        svg.append("line").attr("x1", 3).attr("x2", 1631).attr("y1", 769).attr("y2", 769).attr("stroke", "#eceef1");
        [155, 308].forEach(sx => svg.append("line").attr("x1", sx).attr("x2", sx).attr("y1", 771).attr("y2", 814).attr("stroke", "#e6e8ec"));
        line(at(40, 792), "M-8,-9V-5M6,-9V-5M-10,-7H10V10H-6M-10,-2H10M-12,5H-1M-4,2L-1,5L-4,8", DARK, 1.5);
        label(svg, 63, 799, "定位到...", 18.5, DARK, 700);
        label(svg, 186, 799, "日期范围", 19, DARK, 700);
        line(at(275, 792), "M-4,-2L0,2L4,-2", DARK, 1.3);
        label(svg, 339, 800, "MA", 20, BLUE);
        line(at(438, 793), "M-3,-7H-7V7H7V3M0,0L7,-7M2,-7H7V-2", "#9aa2ad", 1.3);
        label(svg, 461, 799, "社区指标", 19, "#8f98a5", 700);
        svg.append("rect").attr("x", 260).attr("y", 814).attr("width", 48).attr("height", 3).attr("fill", "#edf3fb");

        // ---- watermark
        const wm = at(1459, 790);
        [[0, -8], [-8, 0], [8, 0], [0, 8]].forEach(p => {
            wm.append("rect").attr("x", p[0] - 4).attr("y", p[1] - 4).attr("width", 8).attr("height", 8)
                .attr("fill", "#dcdee1").attr("stroke", "#fff").attr("transform", `rotate(45 ${p[0]} ${p[1]})`);
        });
        label(svg, 1480, 797, "@", 20, "#b4b8be");
        label(svg, 1504, 798, "老罗讲趋势", 23, "#bcc0c5");
        label(svg, 1620, 799, "对", 15, "#5a6472");
    </script>
</body>

</html>
